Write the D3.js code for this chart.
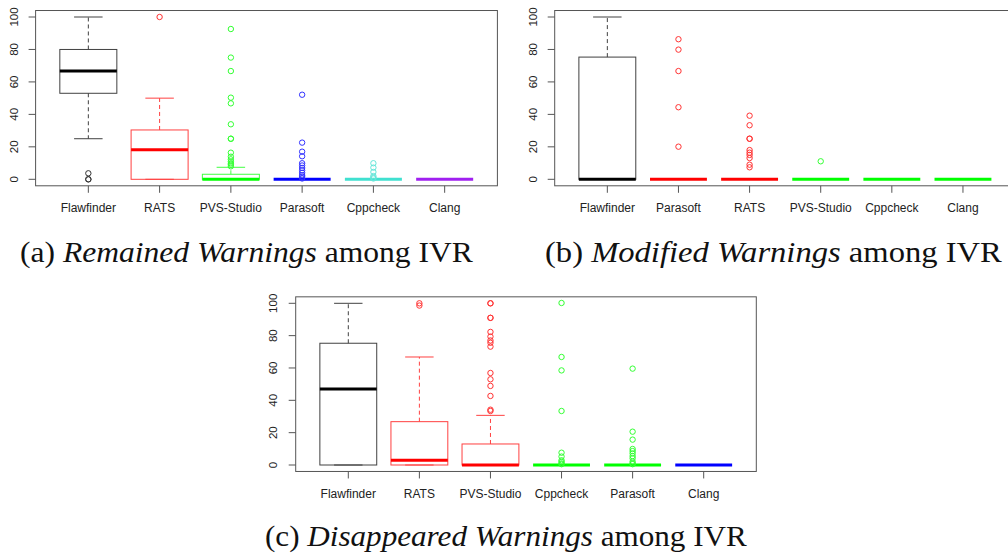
<!DOCTYPE html>
<html>
<head>
<meta charset="utf-8">
<script src="https://cdn.jsdelivr.net/npm/d3@7"></script>
<style>
  html, body { margin: 0; padding: 0; background: #fff; }
  svg { display: block; }
</style>
</head>
<body>
<svg id="chart" width="1008" height="555"></svg>
<script>
// ---------- DATA ----------
const yTicks = [0, 20, 40, 60, 80, 100];

// Panel (a) Remained Warnings
const catsA = ["Flawfinder", "RATS", "PVS-Studio", "Parasoft", "Cppcheck", "Clang"];
// [lower whisker, Q1, median, Q3, upper whisker]
const statsA = [
  [25, 53, 66.7, 80, 100],
  [0, 0, 18.2, 30.4, 50],
  [0, 0, 0, 3.1, 7.4],
  [0, 0, 0, 0, 0],
  [0, 0, 0, 0, 0],
  [0, 0, 0, 0, 0]
];
const outliersA = [
  [0, 0, 3.7],
  [100],
  [92.6, 75, 66.7, 50.3, 46.8, 33.9, 25, 25, 16.4, 13.9, 12.3, 11, 9.9, 9, 8],
  [52.1, 22.6, 17, 14.2, 9.9, 8.5, 7, 5.5, 4, 2.5, 1.5, 0.5],
  [9.9, 7.2, 4.5, 2, 1, 0.5],
  []
];
const colorsA = ["#000000", "#ff0000", "#00ff00", "#0000ff", "#40e0d0", "#a020f0"];

// Panel (b) Modified Warnings
const catsB = ["Flawfinder", "Parasoft", "RATS", "PVS-Studio", "Cppcheck", "Clang"];
const statsB = [
  [0, 0, 0, 75.3, 100],
  [0, 0, 0, 0, 0],
  [0, 0, 0, 0, 0],
  [0, 0, 0, 0, 0],
  [0, 0, 0, 0, 0],
  [0, 0, 0, 0, 0]
];
const outliersB = [
  [],
  [86.3, 79.9, 66.7, 44.4, 20.1],
  [39.2, 33.3, 25, 25, 18, 16.4, 15, 13.1, 9, 7.4],
  [11.1],
  [],
  []
];
const colorsB = ["#000000", "#ff0000", "#ff0000", "#00ff00", "#00ff00", "#00ff00"];

// Panel (c) Disappeared Warnings
const catsC = ["Flawfinder", "RATS", "PVS-Studio", "Cppcheck", "Parasoft", "Clang"];
const statsC = [
  [0, 0, 47, 75.3, 100],
  [0, 0, 2.9, 26.8, 66.8],
  [0, 0, 0, 13, 30.7],
  [0, 0, 0, 0, 0],
  [0, 0, 0, 0, 0],
  [0, 0, 0, 0, 0]
];
const outliersC = [
  [],
  [100, 98.6],
  [100, 100, 91, 91, 82.3, 79.4, 77, 75.6, 73.2, 56.9, 53, 48.9, 42.7, 34.2, 33.4],
  [100.2, 66.8, 58.5, 33.4, 7.6, 5.2, 2.9, 2, 1, 0.5],
  [59.6, 20.6, 15.7, 9.9, 8.6, 7.2, 5.5, 4.1, 2.1, 1, 0.5],
  []
];
const colorsC = ["#000000", "#ff0000", "#ff0000", "#00ff00", "#00ff00", "#0000ff"];

// captions: [prefix, italic part, suffix]
const captionA = ["(a) ", "Remained Warnings", " among IVR"];
const captionB = ["(b) ", "Modified Warnings", " among IVR"];
const captionC = ["(c) ", "Disappeared Warnings", " among IVR"];

// ---------- DRAWING ----------
const SANS = '"Liberation Sans", Arial, sans-serif';
const SERIF = '"Liberation Serif", "Times New Roman", serif';
const svg = d3.select("#chart");
svg.append("rect").attr("width", 1008).attr("height", 555).attr("fill", "#fff");

function lighten(c, k) {
  return d3.interpolateRgb(d3.rgb(c), "#ffffff")(k);
}

function drawPanel(cfg) {
  const { cats, stats, outliers, colors, left, right, y0px, y100px, yLabelX, xLabelY } = cfg;
  const g = svg.append("g");
  const x = d3.scaleLinear().domain([0.26, cats.length + 0.74]).range([left, right]);
  const y = d3.scaleLinear().domain([0, 100]).range([y0px, y100px]);
  const top = y(104), bottom = y(-4);
  const bw = (x(1.4) - x(1)); // half box width
  const sw = (x(1.2) - x(1)); // half staple width

  cats.forEach((cat, i) => {
    const cx = x(i + 1);
    const [wl, q1, med, q3, wh] = stats[i];
    const col = colors[i];
    const thin = lighten(col, 0.25);
    if (wh > q3) {
      g.append("line").attr("x1", cx).attr("x2", cx).attr("y1", y(q3)).attr("y2", y(wh))
        .attr("stroke", thin).attr("stroke-width", 1).attr("stroke-dasharray", "4,3");
    }
    if (wl < q1) {
      g.append("line").attr("x1", cx).attr("x2", cx).attr("y1", y(q1)).attr("y2", y(wl))
        .attr("stroke", thin).attr("stroke-width", 1).attr("stroke-dasharray", "4,3");
    }
    [wl, wh].forEach(v => {
      g.append("line").attr("x1", cx - sw).attr("x2", cx + sw).attr("y1", y(v)).attr("y2", y(v))
        .attr("stroke", thin).attr("stroke-width", 1);
    });
    g.append("rect").attr("x", cx - bw).attr("width", 2 * bw)
      .attr("y", y(q3)).attr("height", Math.max(0, y(q1) - y(q3)))
      .attr("fill", "none").attr("stroke", thin).attr("stroke-width", 1);
    g.append("line").attr("x1", cx - bw).attr("x2", cx + bw).attr("y1", y(med)).attr("y2", y(med))
      .attr("stroke", col).attr("stroke-width", 3);
    outliers[i].forEach(v => {
      g.append("circle").attr("cx", cx).attr("cy", y(v)).attr("r", 2.7)
        .attr("fill", "none").attr("stroke", lighten(col, 0.2)).attr("stroke-width", 1);
    });
    g.append("line").attr("x1", cx).attr("x2", cx).attr("y1", bottom).attr("y2", bottom + 7)
      .attr("stroke", "#555").attr("stroke-width", 1);
    g.append("text").style("font-family", SANS).attr("x", cx).attr("y", xLabelY).attr("dy", "0.35em")
      .attr("text-anchor", "middle").attr("font-size", 12)
      .attr("fill", "#222").text(cat);
  });

  g.append("rect").attr("x", left).attr("y", top).attr("width", right - left).attr("height", bottom - top)
    .attr("fill", "none").attr("stroke", "#555").attr("stroke-width", 1);
  yTicks.forEach(t => {
    g.append("line").attr("x1", left - 7).attr("x2", left).attr("y1", y(t)).attr("y2", y(t))
      .attr("stroke", "#555").attr("stroke-width", 1);
    g.append("text").style("font-family", SANS)
      .attr("transform", `translate(${yLabelX},${y(t)}) rotate(-90)`)
      .attr("dy", "0.36em").attr("text-anchor", "middle").attr("font-size", 11.5)
      .attr("fill", "#222").text(t);
  });
}

drawPanel({ cats: catsA, stats: statsA, outliers: outliersA, colors: colorsA,
  left: 35.6, right: 497.4, y0px: 179.3, y100px: 17, yLabelX: 13.5, xLabelY: 207.3 });
drawPanel({ cats: catsB, stats: statsB, outliers: outliersB, colors: colorsB,
  left: 554.7, right: 1015.6, y0px: 179.3, y100px: 17, yLabelX: 533.3, xLabelY: 207.3 });
drawPanel({ cats: catsC, stats: statsC, outliers: outliersC, colors: colorsC,
  left: 295.7, right: 756.3, y0px: 465, y100px: 303.3, yLabelX: 273.3, xLabelY: 493.3 });

function caption(parts, x0, baseline, width) {
  const t = svg.append("text").style("font-family", SERIF).attr("x", x0).attr("y", baseline)
    .attr("font-size", 30).attr("fill", "#111");
  t.append("tspan").text(parts[0]);
  t.append("tspan").attr("font-style", "italic").text(parts[1]);
  t.append("tspan").text(parts[2]);
  const w = t.node().getComputedTextLength();
  const s = width / w;
  t.attr("transform", `translate(${x0},0) scale(${s},1) translate(${-x0},0)`);
}
caption(captionA, 20, 262, 453);
caption(captionB, 545, 262, 457);
caption(captionC, 265, 546, 482);
</script>
</body>
</html>
